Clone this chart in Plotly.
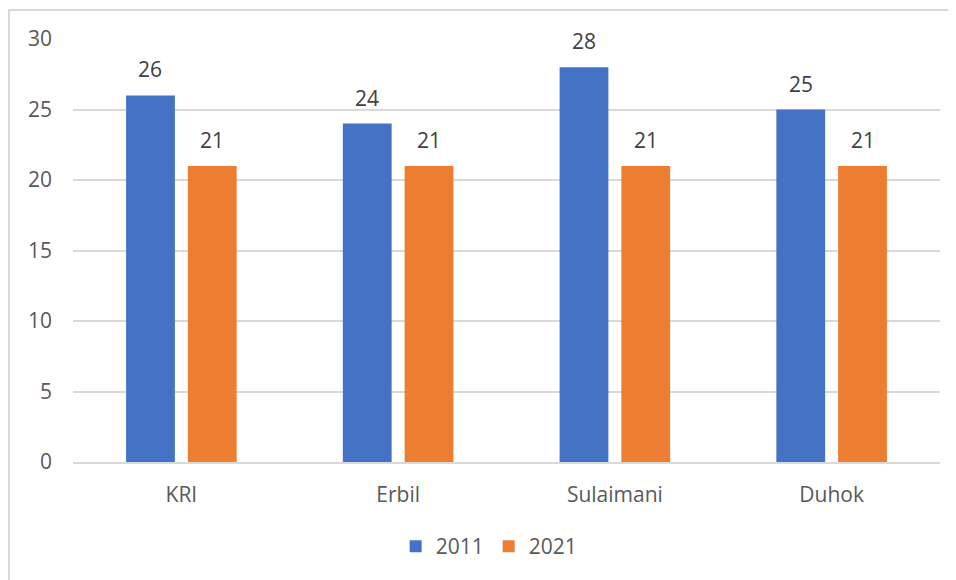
import plotly.graph_objects as go

categories = ["KRI", "Erbil", "Sulaimani", "Duhok"]
values_2011 = [26, 24, 28, 25]
values_2021 = [21, 21, 21, 21]
series_names = ["2011", "2021"]
y_ticks = [0, 5, 10, 15, 20, 25, 30]

BLUE = "#4472C4"
ORANGE = "#ED7D31"
TEXT = "#595959"
GRID = "#D9D9D9"
FONT = "Open Sans"
FS = 21

fig = go.Figure()
fig.add_trace(go.Bar(name=series_names[0], x=categories, y=values_2011,
                     marker=dict(color=BLUE, line=dict(width=0))))
fig.add_trace(go.Bar(name=series_names[1], x=categories, y=values_2021,
                     marker=dict(color=ORANGE, line=dict(width=0))))

annotations = []
for c, v in zip(categories, values_2011):
    annotations.append(dict(x=c, y=v, xref="x", yref="y", text=str(v), showarrow=False,
                            xshift=-31, yshift=26, font=dict(family=FONT, size=FS, color="#404040")))
for c, v in zip(categories, values_2021):
    annotations.append(dict(x=c, y=v, xref="x", yref="y", text=str(v), showarrow=False,
                            xshift=31, yshift=26, font=dict(family=FONT, size=FS, color="#404040")))

# page has an 8px body margin, so the figure starts at (8, 8)
fig.update_layout(
    width=948, height=572,
    margin=dict(l=65, r=16, t=31, b=118),
    paper_bgcolor="white", plot_bgcolor="white",
    barmode="group", bargap=0.43, bargroupgap=0.21,
    font=dict(family=FONT, size=FS, color=TEXT),
    showlegend=True,
    legend=dict(orientation="h", x=0.48, xanchor="center", y=-0.2, yanchor="middle",
                font=dict(family=FONT, size=FS, color=TEXT), itemwidth=30,
                tracegroupgap=0),
    annotations=annotations,
    shapes=[dict(type="rect", xref="paper", yref="paper",
                 x0=(9 - 73) / 867, x1=1.03, y0=-0.3, y1=1 + 29 / 423,
                 line=dict(color=GRID, width=2), fillcolor="rgba(0,0,0,0)", layer="below")],
)
fig.update_yaxes(range=[0, 30], tickvals=y_ticks, showgrid=True, gridcolor=GRID, gridwidth=1.5,
                 zeroline=False, showline=False, ticks="", ticklabelstandoff=20,
                 tickfont=dict(family=FONT, size=FS, color=TEXT), fixedrange=True)
fig.update_xaxes(showline=True, linecolor=GRID, linewidth=2, ticks="", ticklabelstandoff=13,
                 tickfont=dict(family=FONT, size=FS, color=TEXT), fixedrange=True)

fig.write_html("out.html")
